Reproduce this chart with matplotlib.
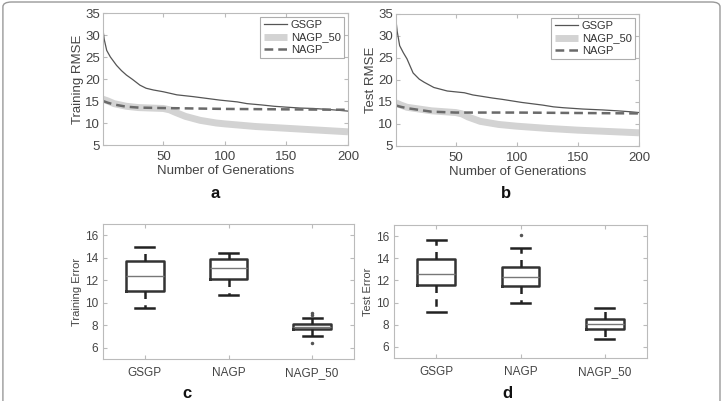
import matplotlib.pyplot as plt
from matplotlib.patches import FancyBboxPatch

plt.rcParams['font.family'] = ['Liberation Sans', 'DejaVu Sans']

# convergence curves (generation, RMSE)
gen_gsgp_tr = [1, 2, 4, 7, 12, 16, 20, 25, 31, 36, 42, 50, 61, 74, 85, 96, 110, 118, 130, 140, 150, 161, 172, 183, 192, 200]
gsgp_tr = [31.2, 29.0, 26.5, 25.0, 23.1, 21.9, 20.9, 19.9, 18.6, 17.9, 17.5, 17.1, 16.4, 16.0, 15.6, 15.2, 14.8, 14.4, 14.1, 13.8, 13.6, 13.4, 13.3, 13.1, 12.9, 12.7]
gen_nagp_tr = [1, 5, 10, 20, 30, 50, 75, 100, 150, 200]
nagp_tr = [15.0, 14.6, 14.2, 13.7, 13.5, 13.4, 13.3, 13.2, 13.1, 13.0]
gen_nagp50_tr = [1, 5, 10, 20, 30, 50, 55, 60, 68, 80, 93, 100, 125, 150, 175, 200]
nagp50_tr = [15.4, 15.0, 14.4, 13.8, 13.5, 13.3, 13.0, 12.4, 11.5, 10.6, 10.0, 9.8, 9.2, 8.8, 8.4, 8.0]

gen_gsgp_te = [1, 2, 4, 7, 10, 15, 20, 24, 32, 43, 50, 57, 64, 71, 80, 88, 104, 121, 130, 138, 154, 170, 182, 192, 200]
gsgp_te = [33.5, 31.0, 27.8, 26.2, 24.8, 21.6, 20.2, 19.5, 18.3, 17.5, 17.3, 17.1, 16.6, 16.3, 15.9, 15.6, 14.9, 14.3, 13.9, 13.7, 13.4, 13.2, 13.0, 12.8, 12.6]
gen_nagp_te = [1, 5, 10, 20, 30, 50, 100, 150, 200]
nagp_te = [14.2, 13.9, 13.6, 13.2, 12.8, 12.6, 12.6, 12.5, 12.4]
gen_nagp50_te = [1, 5, 10, 20, 30, 50, 55, 60, 70, 85, 100, 125, 150, 175, 200]
nagp50_te = [14.8, 14.3, 13.8, 13.4, 13.0, 12.6, 12.3, 11.6, 10.6, 9.9, 9.5, 9.0, 8.6, 8.3, 8.0]

# box plot summaries: whislo, q1, med, q3, whishi
box_labels = ['GSGP', 'NAGP', 'NAGP_50']
train_box = [[9.52, 11.03, 12.39, 13.68, 14.95],
             [10.73, 12.14, 13.08, 13.89, 14.46],
             [7.05, 7.66, 7.87, 8.11, 8.62]]
train_fliers = [[], [], [9.07, 8.95, 6.45]]
test_box = [[9.16, 11.59, 12.60, 13.90, 15.67],
            [9.98, 11.50, 12.32, 13.20, 14.94],
            [6.67, 7.64, 8.07, 8.49, 9.53]]
test_fliers = [[], [16.1], []]

W, H = 7.28, 4.01
fig = plt.figure(figsize=(W, H), dpi=100)
fig.patches.append(FancyBboxPatch((0.004, -0.05), 0.985, 1.045, boxstyle='round,pad=0,rounding_size=0.012',
                                  transform=fig.transFigure, fill=False, edgecolor='#999999', linewidth=1.0))


def px_axes(l, t, r, b):
    return fig.add_axes([l / 728, 1 - b / 401, (r - l) / 728, (b - t) / 401])


def style(ax):
    for s in ax.spines.values():
        s.set_color('#bbbbbb')
        s.set_linewidth(0.8)
    ax.tick_params(direction='in', length=3, color='#bbbbbb', labelcolor='#444444', top=True, right=True,
                   labeltop=False, labelright=False)


def curve_panel(ax, g1, y1, g2, y2, g3, y3, ylabel):
    ax.plot(g1, y1, color='#555555', lw=0.9, label='GSGP')
    ax.plot(g2, y2, color='#d3d3d3', lw=5, solid_capstyle='butt', label='NAGP_50')
    ax.plot(g3, y3, color='#6a6a6a', lw=1.8, ls=(0, (3.5, 2)), label='NAGP')
    ax.set_xlim(1, 200)
    ax.set_ylim(5, 35)
    ax.set_xticks([50, 100, 150, 200])
    ax.set_yticks(range(5, 36, 5))
    ax.set_xlabel('Number of Generations', fontsize=9.5, color='#444444', labelpad=2)
    ax.set_ylabel(ylabel, fontsize=9.5, color='#444444', labelpad=1)
    style(ax)
    ax.tick_params(labelsize=9.5, pad=2)
    ax.tick_params(axis='x', pad=4)
    leg = ax.legend(loc='upper right', fontsize=8, frameon=True, fancybox=False, handlelength=2.1,
                    borderpad=0.3, labelspacing=0.2, handletextpad=0.35, borderaxespad=0.35)
    leg.get_frame().set_edgecolor('#999999')
    leg.get_frame().set_linewidth(0.8)
    for t in leg.get_texts():
        t.set_color('#333333')


def box_panel(ax, data, fliers, ylabel):
    stats = []
    for lab, (lo, q1, med, q3, hi), fl in zip(box_labels, data, fliers):
        stats.append(dict(label=lab, whislo=lo, q1=q1, med=med, q3=q3, whishi=hi, fliers=fl))
    ax.bxp(stats, positions=[1, 2, 3], widths=0.45, showfliers=True,
           boxprops=dict(color='#333333', lw=1.8),
           whiskerprops=dict(color='#222222', lw=1.8, ls=(0, (3, 2.5))),
           capprops=dict(color='#222222', lw=1.8),
           medianprops=dict(color='#777777', lw=1.0),
           flierprops=dict(marker='.', markersize=3, markerfacecolor='#555555', markeredgecolor='#555555'))
    ax.set_xlim(0.5, 3.5)
    ax.set_ylim(5, 17)
    ax.set_yticks([6, 8, 10, 12, 14, 16])
    ax.set_ylabel(ylabel, fontsize=8, color='#444444', labelpad=2)
    style(ax)
    ax.tick_params(labelsize=8.5)
    ax.tick_params(axis='x', pad=6)


ax_a = px_axes(103, 13, 348, 145)
curve_panel(ax_a, gen_gsgp_tr, gsgp_tr, gen_nagp50_tr, nagp50_tr, gen_nagp_tr, nagp_tr, 'Training RMSE')
ax_b = px_axes(396, 14, 639, 146)
curve_panel(ax_b, gen_gsgp_te, gsgp_te, gen_nagp50_te, nagp50_te, gen_nagp_te, nagp_te, 'Test RMSE')
ax_c = px_axes(103, 224, 354, 359)
box_panel(ax_c, train_box, train_fliers, 'Training Error')
ax_d = px_axes(394, 225, 647, 358)
box_panel(ax_d, test_box, test_fliers, 'Test Error')

for lab, x, y in [('a', 215, 193), ('b', 506, 193), ('c', 187, 394), ('d', 507, 394)]:
    fig.text(x / 728, 1 - y / 401, lab, fontsize=12, fontweight='bold', ha='center', va='center', color='#111111')

fig.savefig('out.png', dpi=100)
